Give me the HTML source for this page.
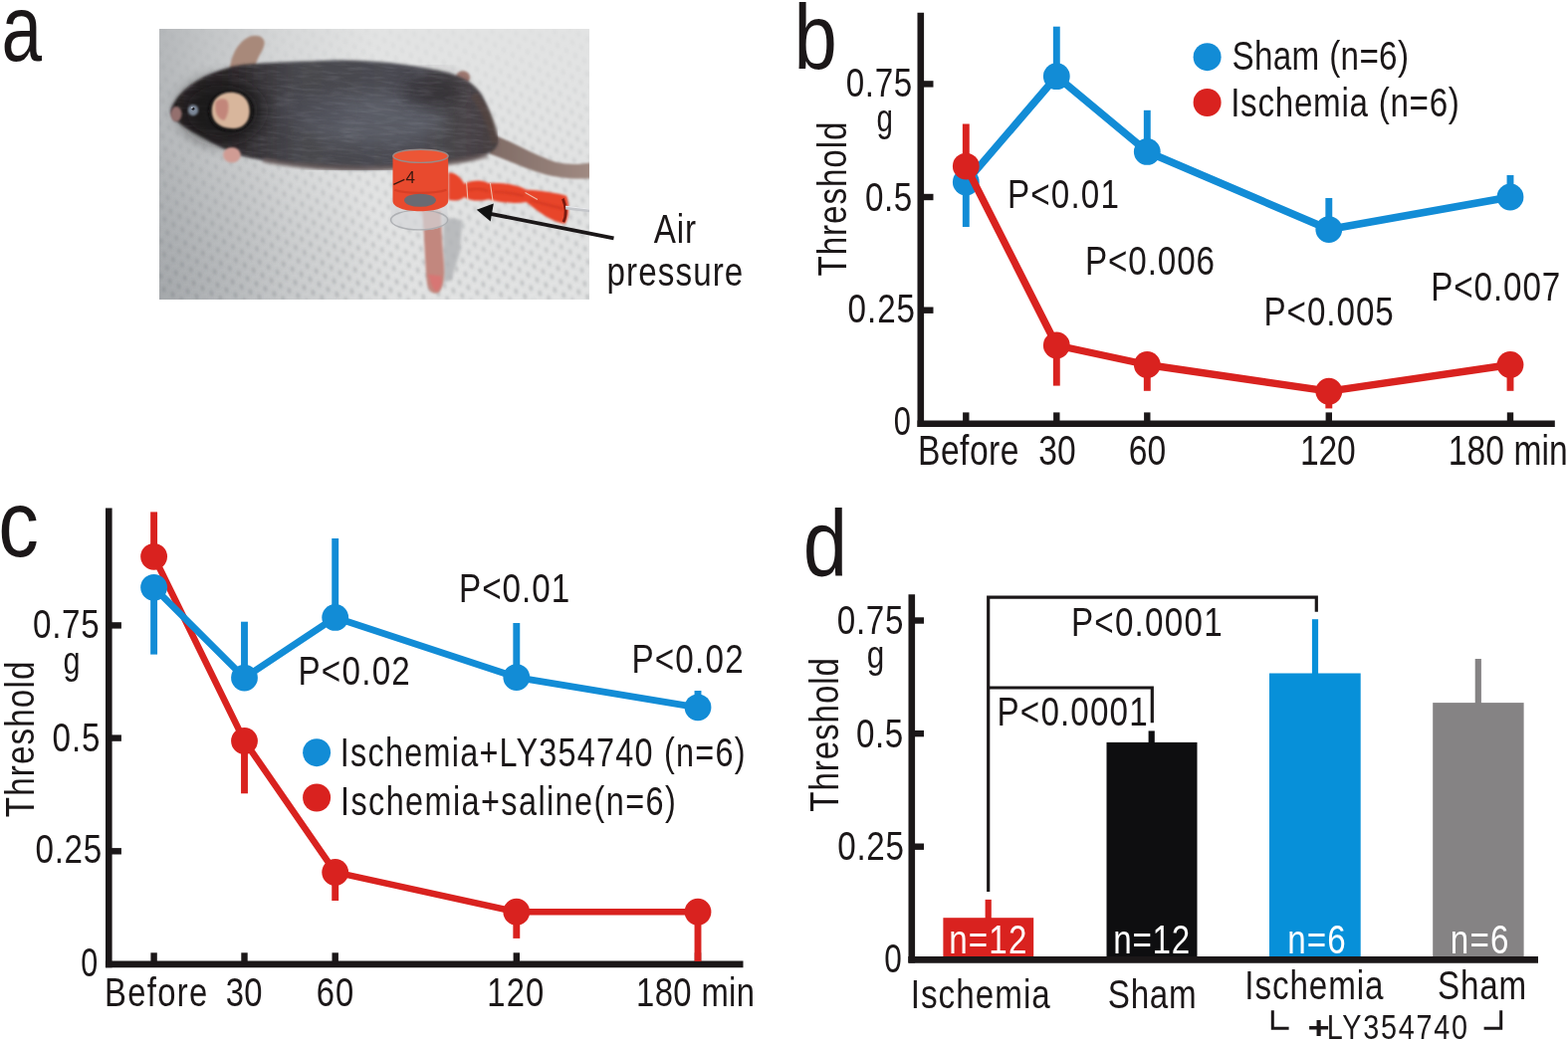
<!DOCTYPE html>
<html><head><meta charset="utf-8"><title>Figure</title>
<style>html,body{margin:0;padding:0;background:#fff;}svg{display:block;}</style></head>
<body><svg width="1575" height="1047" viewBox="0 0 1575 1047" font-family='"Liberation Sans", Arial, sans-serif'>
<rect width="1575" height="1047" fill="#fff"/>
<text transform="translate(1.53,60.56) scale(0.7726,1)" font-size="94.5" fill="#1b1718">a</text>
<defs>
<linearGradient id="dmg" x1="0" y1="0" x2="0" y2="1"><stop offset="0" stop-color="#fff" stop-opacity="0.12"/><stop offset="0.45" stop-color="#fff" stop-opacity="0.5"/><stop offset="1" stop-color="#fff" stop-opacity="0.95"/></linearGradient>
<mask id="dm" maskUnits="userSpaceOnUse" x="0" y="0" width="1575" height="992"><rect width="1575" height="992" fill="url(#dmg)"/></mask>
<clipPath id="bodyclip"><path d="M42 300 C55 250 110 195 200 160 C240 145 262 138 300 132 C380 124 520 120 640 115 C760 113 900 127 1010 150 C1080 162 1140 185 1175 232 C1205 280 1228 350 1240 410 C1242 445 1200 468 1130 482 C1050 495 950 505 850 512 C740 520 620 515 520 503 C430 492 350 478 290 462 C230 440 160 400 100 365 C70 345 42 320 42 300 Z"/></clipPath>
<filter id="fur" x="-200" y="-200" width="2000" height="1300" filterUnits="userSpaceOnUse">
<feTurbulence type="fractalNoise" baseFrequency="0.012 0.09" numOctaves="3" seed="7"/>
<feColorMatrix type="matrix" values="0 0 0 0 0.45  0 0 0 0 0.46  0 0 0 0 0.52  0 0 0 -2.2 1.25"/>
</filter>
<filter id="fur2" x="-200" y="-200" width="2000" height="1300" filterUnits="userSpaceOnUse">
<feTurbulence type="fractalNoise" baseFrequency="0.012 0.09" numOctaves="3" seed="19"/>
<feColorMatrix type="matrix" values="0 0 0 0 0.08  0 0 0 0 0.07  0 0 0 0 0.08  0 0 0 2.2 -1.0"/>
</filter>
<linearGradient id="vigx" x1="0" y1="0" x2="1" y2="0">
<stop offset="0" stop-color="#969a9e" stop-opacity="0.6"/><stop offset="0.12" stop-color="#969a9e" stop-opacity="0.4"/><stop offset="0.3" stop-color="#969a9e" stop-opacity="0.15"/><stop offset="0.5" stop-color="#969a9e" stop-opacity="0"/></linearGradient>
<radialGradient id="vigbl" cx="0" cy="1" r="0.6" gradientTransform="scale(1,1)">
<stop offset="0" stop-color="#8e9296" stop-opacity="0.4"/><stop offset="1" stop-color="#8e9296" stop-opacity="0"/></radialGradient>
<clipPath id="pc"><rect x="0" y="0" width="1575" height="992"/></clipPath>
<pattern id="dots" x="0" y="0" width="56" height="50" patternUnits="userSpaceOnUse" patternTransform="rotate(-12)">
<ellipse cx="14" cy="12" rx="5" ry="11" fill="#5c6266" fill-opacity="0.38"/><ellipse cx="42" cy="37" rx="5" ry="11" fill="#5c6266" fill-opacity="0.38"/>
</pattern>
<linearGradient id="bodyg" x1="0" y1="0" x2="1" y2="0">
<stop offset="0" stop-color="#271f22"/><stop offset="0.2" stop-color="#302b2e"/><stop offset="0.38" stop-color="#47474d"/><stop offset="0.75" stop-color="#4c4c53"/><stop offset="1" stop-color="#453e40"/>
</linearGradient>
<linearGradient id="tailg" x1="0" y1="0" x2="1" y2="0">
<stop offset="0" stop-color="#7e6a64"/><stop offset="1" stop-color="#a08a82"/>
</linearGradient>
<filter id="bl1" x="-10%" y="-10%" width="120%" height="120%"><feGaussianBlur stdDeviation="3"/></filter>
<filter id="bl2" x="-10%" y="-10%" width="120%" height="120%"><feGaussianBlur stdDeviation="6"/></filter>
<filter id="bl3" x="-30%" y="-30%" width="160%" height="160%"><feGaussianBlur stdDeviation="30"/></filter>
<filter id="bld" x="0" y="0" width="100%" height="100%"><feGaussianBlur stdDeviation="5"/></filter>
</defs>
<g transform="translate(160,29) scale(0.274286)" clip-path="url(#pc)">
<rect width="1575" height="992" fill="#e2e3e3"/>
<rect width="1575" height="992" fill="url(#vigx)"/>
<rect width="1575" height="992" fill="url(#vigbl)"/>
<g filter="url(#bld)" mask="url(#dm)"><rect width="1575" height="992" fill="url(#dots)"/></g>
<!-- grayish shade left -->

<!-- shadow under leg -->
<path d="M1040 690 L1110 700 L1100 820 L1070 920 L1040 930 Z" fill="#b0b2b5" filter="url(#bl2)" opacity="0.8"/>
<!-- tail -->
<path d="M1200 380 C1290 410 1370 462 1450 488 C1505 500 1545 496 1580 490 L1580 548 C1540 550 1485 550 1420 535 C1345 515 1280 482 1210 458 Z" fill="url(#tailg)" filter="url(#bl1)"/>
<!-- top ear -->
<path d="M258 150 C262 100 285 50 330 28 C360 18 388 30 385 55 C382 80 360 100 352 135 Z" fill="#a8897a" filter="url(#bl1)"/>
<!-- hind foot top -->
<ellipse cx="1112" cy="178" rx="26" ry="24" fill="#a07a72" filter="url(#bl1)"/>
<!-- body -->
<path d="M42 300 C55 250 110 195 200 160 C240 145 262 138 300 132 C380 124 520 120 640 115 C760 113 900 127 1010 150 C1080 162 1140 185 1175 232 C1205 280 1228 350 1240 410 C1242 445 1200 468 1130 482 C1050 495 950 505 850 512 C740 520 620 515 520 503 C430 492 350 478 290 462 C230 440 160 400 100 365 C70 345 42 320 42 300 Z" fill="url(#bodyg)" filter="url(#bl2)"/>
<!-- lighter back patch -->
<ellipse cx="780" cy="330" rx="260" ry="95" fill="#60636d" opacity="0.8" filter="url(#bl3)"/>
<ellipse cx="560" cy="300" rx="120" ry="70" fill="#4c4c54" opacity="0.6" filter="url(#bl3)"/>
<ellipse cx="1000" cy="230" rx="110" ry="60" fill="#2c282c" opacity="0.6" filter="url(#bl3)"/>
<g clip-path="url(#bodyclip)"><g transform="rotate(4 640 300)"><rect x="-200" y="-200" width="2000" height="1300" filter="url(#fur)" opacity="0.16"/><rect x="-200" y="-200" width="2000" height="1300" filter="url(#fur2)" opacity="0.2"/></g></g>
<!-- brownish rump / belly edge -->
<path d="M1150 240 C1200 300 1225 370 1230 420" fill="none" stroke="#5a4640" stroke-width="30" opacity="0.55" filter="url(#bl2)"/>
<path d="M380 480 C500 505 700 520 900 507 C1000 499 1120 484 1200 462" fill="none" stroke="#6a5a58" stroke-width="22" opacity="0.55" filter="url(#bl2)"/>
<!-- dark head -->
<ellipse cx="230" cy="300" rx="150" ry="115" fill="#181214" opacity="0.75" filter="url(#bl3)"/>
<!-- side ear -->
<ellipse cx="262" cy="302" rx="82" ry="74" fill="#110d0f" filter="url(#bl2)"/>
<path d="M192 300 C192 255 225 232 262 232 C308 232 333 265 331 305 C329 347 300 368 262 365 C218 363 192 337 192 300 Z" fill="#d8b69c" filter="url(#bl1)"/>
<path d="M205 270 C215 255 240 250 250 265 C258 290 250 320 238 335 C222 335 205 315 205 290 Z" fill="#c2867a" filter="url(#bl1)"/>
<!-- eye -->
<ellipse cx="124" cy="298" rx="19" ry="20" fill="#7c8798" filter="url(#bl1)"/>
<circle cx="124" cy="293" r="5" fill="#1a1a1e"/>
<circle cx="120" cy="289" r="2.5" fill="#e8eef4"/>
<!-- nose -->
<ellipse cx="62" cy="312" rx="20" ry="28" fill="#94706e" filter="url(#bl1)"/>
<!-- front paw -->
<ellipse cx="266" cy="462" rx="32" ry="28" fill="#d09c94" filter="url(#bl1)"/>
<!-- hind leg -->
<path d="M962 660 L1032 668 C1032 720 1036 780 1042 850 C1046 900 1044 940 1025 965 C1005 975 985 965 980 930 C975 880 972 800 968 730 Z" fill="#c2877e" filter="url(#bl1)"/>
<path d="M985 900 C995 930 1000 955 1015 962 C1030 955 1038 930 1032 905 Z" fill="#e07070" opacity="0.7" filter="url(#bl1)"/>
<!-- clear plastic lower ring -->
<path d="M848 620 L1055 620 L1055 700 C1055 725 1010 738 955 738 C895 738 848 725 848 700 Z" fill="#d4d6d8" opacity="0.7"/>
<ellipse cx="952" cy="700" rx="104" ry="36" fill="none" stroke="#a4a6aa" stroke-width="5" opacity="0.8"/>
<!-- red cuff -->
<path d="M855 468 L1058 468 L1058 630 C1058 655 1010 668 955 668 C900 668 855 655 855 630 Z" fill="#e84a2e"/>
<ellipse cx="957" cy="466" rx="101" ry="24" fill="#ec5636" stroke="#9a8a88" stroke-width="5"/>
<path d="M862 590 C900 605 1010 605 1052 590" fill="none" stroke="#d03a22" stroke-width="8" opacity="0.7"/>
<ellipse cx="955" cy="628" rx="58" ry="24" fill="#6a6a72"/>
<text x="902" y="565" font-size="62" fill="#3a1810" font-family="Liberation Sans, sans-serif">4</text>
<line x1="858" y1="570" x2="898" y2="552" stroke="#3a1810" stroke-width="5"/>
<!-- balloon -->
<path d="M1059 527 C1085 525 1105 545 1117 568 C1150 552 1185 553 1206 566 C1250 562 1310 570 1344 590 C1400 592 1460 603 1491 612 C1502 640 1502 690 1486 714 C1440 708 1390 672 1344 634 C1300 642 1250 636 1206 624 C1180 632 1140 632 1117 616 C1100 632 1075 630 1059 626 Z" fill="#e8452c" filter="url(#bl1)"/>
<path d="M1130 590 C1160 585 1190 588 1205 595 M1225 598 C1270 598 1310 605 1335 612 M1360 628 C1400 640 1450 650 1480 660" stroke="#c8321e" stroke-width="8" fill="none" opacity="0.6" filter="url(#bl1)"/>
<path d="M1478 622 C1490 650 1492 685 1480 708" fill="none" stroke="#7a1a10" stroke-width="10"/>
<path d="M1125 560 L1130 630 M1212 565 L1222 635 M1340 600 L1385 625" stroke="#f0d8c8" stroke-width="4" fill="none" opacity="0.8"/>
<!-- tube -->
<path d="M1488 648 L1580 660 L1580 672 L1488 662 Z" fill="#c4c6ca"/>
<path d="M1488 650 L1580 661" stroke="#f4f4f6" stroke-width="3"/>
</g>

<text transform="translate(656.83,243.50) scale(0.8000,1)" font-size="41.5" fill="#1b1718" letter-spacing="1.02">Air</text>
<text transform="translate(609.48,287.40) scale(0.8000,1)" font-size="41.5" fill="#1b1718" letter-spacing="1.38">pressure</text>
<line x1="616.5" y1="239.3" x2="490" y2="214.3" stroke="#1b1718" stroke-width="3.8" stroke-linecap="butt"/>
<polygon points="478.8,210.8 495.8,204.6 492.7,222.5" fill="#111"/>
<text transform="translate(797.62,69.40) scale(0.8342,1)" font-size="93.3" fill="#1b1718">b</text>
<line x1="924.8" y1="12.7" x2="924.8" y2="429.1" stroke="#1b1718" stroke-width="6.6" stroke-linecap="butt"/>
<line x1="921.5" y1="425.8" x2="1561.8" y2="425.8" stroke="#1b1718" stroke-width="6.6" stroke-linecap="butt"/>
<line x1="924.8" y1="84.4" x2="937.5" y2="84.4" stroke="#1b1718" stroke-width="6.4" stroke-linecap="butt"/>
<line x1="924.8" y1="198.0" x2="937.5" y2="198.0" stroke="#1b1718" stroke-width="6.4" stroke-linecap="butt"/>
<line x1="924.8" y1="311.7" x2="937.5" y2="311.7" stroke="#1b1718" stroke-width="6.4" stroke-linecap="butt"/>
<line x1="970.3" y1="414.4" x2="970.3" y2="425.8" stroke="#1b1718" stroke-width="6.4" stroke-linecap="butt"/>
<line x1="1061.3" y1="414.4" x2="1061.3" y2="425.8" stroke="#1b1718" stroke-width="6.4" stroke-linecap="butt"/>
<line x1="1152.3" y1="414.4" x2="1152.3" y2="425.8" stroke="#1b1718" stroke-width="6.4" stroke-linecap="butt"/>
<line x1="1334.8" y1="414.4" x2="1334.8" y2="425.8" stroke="#1b1718" stroke-width="6.4" stroke-linecap="butt"/>
<line x1="1517.0" y1="414.4" x2="1517.0" y2="425.8" stroke="#1b1718" stroke-width="6.4" stroke-linecap="butt"/>
<line x1="970.3" y1="182.9" x2="970.3" y2="228.0" stroke="#128cd6" stroke-width="6.9" stroke-linecap="butt"/>
<line x1="1061.3" y1="76.7" x2="1061.3" y2="26.7" stroke="#128cd6" stroke-width="6.9" stroke-linecap="butt"/>
<line x1="1152.3" y1="152.4" x2="1152.3" y2="110.8" stroke="#128cd6" stroke-width="6.9" stroke-linecap="butt"/>
<line x1="1334.8" y1="230.6" x2="1334.8" y2="199.0" stroke="#128cd6" stroke-width="6.9" stroke-linecap="butt"/>
<line x1="1517.0" y1="198.0" x2="1517.0" y2="176.0" stroke="#128cd6" stroke-width="6.9" stroke-linecap="butt"/>
<polyline points="970.3,182.9 1061.3,76.7 1152.3,152.4 1334.8,230.6 1517.0,198.0" fill="none" stroke="#128cd6" stroke-width="7.6" stroke-linejoin="round"/>
<circle cx="970.3" cy="182.9" r="13.4" fill="#128cd6"/>
<circle cx="1061.3" cy="76.7" r="13.4" fill="#128cd6"/>
<circle cx="1152.3" cy="152.4" r="13.4" fill="#128cd6"/>
<circle cx="1334.8" cy="230.6" r="13.4" fill="#128cd6"/>
<circle cx="1517.0" cy="198.0" r="13.4" fill="#128cd6"/>
<line x1="970.3" y1="167.1" x2="970.3" y2="124.5" stroke="#d9221f" stroke-width="6.9" stroke-linecap="butt"/>
<line x1="1061.3" y1="347.0" x2="1061.3" y2="387.6" stroke="#d9221f" stroke-width="6.9" stroke-linecap="butt"/>
<line x1="1152.3" y1="366.5" x2="1152.3" y2="392.8" stroke="#d9221f" stroke-width="6.9" stroke-linecap="butt"/>
<line x1="1334.8" y1="393.2" x2="1334.8" y2="410.4" stroke="#d9221f" stroke-width="6.9" stroke-linecap="butt"/>
<line x1="1517.0" y1="366.5" x2="1517.0" y2="392.8" stroke="#d9221f" stroke-width="6.9" stroke-linecap="butt"/>
<polyline points="970.3,167.1 1061.3,347.0 1152.3,366.5 1334.8,393.2 1517.0,366.5" fill="none" stroke="#d9221f" stroke-width="7.4" stroke-linejoin="round"/>
<circle cx="970.3" cy="167.1" r="13.4" fill="#d9221f"/>
<circle cx="1061.3" cy="347.0" r="13.4" fill="#d9221f"/>
<circle cx="1152.3" cy="366.5" r="13.4" fill="#d9221f"/>
<circle cx="1334.8" cy="393.2" r="13.4" fill="#d9221f"/>
<circle cx="1517.0" cy="366.5" r="13.4" fill="#d9221f"/>
<circle cx="1212.6" cy="57.2" r="14" fill="#128cd6"/>
<circle cx="1212.6" cy="103" r="14" fill="#d9221f"/>
<text transform="translate(1237.51,70.40) scale(0.8000,1)" font-size="41.5" fill="#1b1718" letter-spacing="0.44">Sham (n=6)</text>
<text transform="translate(1236.15,116.70) scale(0.8000,1)" font-size="41.5" fill="#1b1718" letter-spacing="0.90">Ischemia (n=6)</text>
<text transform="translate(1011.88,209.00) scale(0.8000,1)" font-size="41.5" fill="#1b1718" letter-spacing="1.48">P&lt;0.01</text>
<text transform="translate(1089.88,276.20) scale(0.8000,1)" font-size="41.5" fill="#1b1718" letter-spacing="1.16">P&lt;0.006</text>
<text transform="translate(1269.48,326.70) scale(0.8000,1)" font-size="41.5" fill="#1b1718" letter-spacing="1.20">P&lt;0.005</text>
<text transform="translate(1437.28,301.50) scale(0.8000,1)" font-size="41.5" fill="#1b1718" letter-spacing="1.12">P&lt;0.007</text>
<text transform="translate(922.04,467.30) scale(0.8000,1)" font-size="42" fill="#1b1718" letter-spacing="0.61">Before</text>
<text transform="translate(1043.22,467.30) scale(0.8000,1)" font-size="42" fill="#1b1718" letter-spacing="0.24">30</text>
<text transform="translate(1133.82,467.30) scale(0.8000,1)" font-size="42" fill="#1b1718" letter-spacing="0.12">60</text>
<text transform="translate(1305.95,467.30) scale(0.8000,1)" font-size="42" fill="#1b1718" letter-spacing="-0.20">120</text>
<text transform="translate(1454.75,467.30) scale(0.8000,1)" font-size="42" fill="#1b1718" letter-spacing="0.10">180 min</text>
<text transform="translate(849.71,97.40) scale(0.8000,1)" font-size="41.5" fill="#1b1718" letter-spacing="0.81">0.75</text>
<text transform="translate(880.46,132.20) scale(0.7778,1)" font-size="38" fill="#1b1718">g</text>
<text transform="translate(869.11,211.50) scale(0.8000,1)" font-size="41.5" fill="#1b1718" letter-spacing="0.57">0.5</text>
<text transform="translate(851.61,324.40) scale(0.8000,1)" font-size="41.5" fill="#1b1718" letter-spacing="1.15">0.25</text>
<text transform="translate(897.69,437.40) scale(0.7445,1)" font-size="41.5" fill="#1b1718">0</text>
<text transform="translate(850.40,277.53) rotate(-90) scale(0.8000,1)" font-size="41.5" fill="#1b1718" letter-spacing="1.16">Threshold</text>
<text transform="translate(-1.71,558.76) scale(0.8662,1)" font-size="93.8" fill="#1b1718">c</text>
<line x1="109.3" y1="510.6" x2="109.3" y2="972.3" stroke="#1b1718" stroke-width="6.6" stroke-linecap="butt"/>
<line x1="105.9" y1="968.9" x2="746.5" y2="968.9" stroke="#1b1718" stroke-width="6.6" stroke-linecap="butt"/>
<line x1="109.3" y1="628.4" x2="121.9" y2="628.4" stroke="#1b1718" stroke-width="6.4" stroke-linecap="butt"/>
<line x1="109.3" y1="741.6" x2="121.9" y2="741.6" stroke="#1b1718" stroke-width="6.4" stroke-linecap="butt"/>
<line x1="109.3" y1="855.3" x2="121.9" y2="855.3" stroke="#1b1718" stroke-width="6.4" stroke-linecap="butt"/>
<line x1="154.6" y1="957.3" x2="154.6" y2="968.9" stroke="#1b1718" stroke-width="6.4" stroke-linecap="butt"/>
<line x1="245.5" y1="957.3" x2="245.5" y2="968.9" stroke="#1b1718" stroke-width="6.4" stroke-linecap="butt"/>
<line x1="336.7" y1="957.3" x2="336.7" y2="968.9" stroke="#1b1718" stroke-width="6.4" stroke-linecap="butt"/>
<line x1="518.8" y1="957.3" x2="518.8" y2="968.9" stroke="#1b1718" stroke-width="6.4" stroke-linecap="butt"/>
<line x1="701.0" y1="957.3" x2="701.0" y2="968.9" stroke="#1b1718" stroke-width="6.4" stroke-linecap="butt"/>
<line x1="154.6" y1="559.3" x2="154.6" y2="514.4" stroke="#d9221f" stroke-width="6.9" stroke-linecap="butt"/>
<line x1="245.5" y1="744.4" x2="245.5" y2="797.3" stroke="#d9221f" stroke-width="6.9" stroke-linecap="butt"/>
<line x1="336.7" y1="876.4" x2="336.7" y2="905.0" stroke="#d9221f" stroke-width="6.9" stroke-linecap="butt"/>
<line x1="518.8" y1="916.2" x2="518.8" y2="942.9" stroke="#d9221f" stroke-width="6.9" stroke-linecap="butt"/>
<line x1="701.0" y1="916.2" x2="701.0" y2="966.0" stroke="#d9221f" stroke-width="6.9" stroke-linecap="butt"/>
<polyline points="154.6,559.3 245.5,744.4 336.7,876.4 518.8,916.2 701.0,916.2" fill="none" stroke="#d9221f" stroke-width="6.6" stroke-linejoin="round"/>
<circle cx="154.6" cy="559.3" r="13.4" fill="#d9221f"/>
<circle cx="245.5" cy="744.4" r="13.4" fill="#d9221f"/>
<circle cx="336.7" cy="876.4" r="13.4" fill="#d9221f"/>
<circle cx="518.8" cy="916.2" r="13.4" fill="#d9221f"/>
<circle cx="701.0" cy="916.2" r="13.4" fill="#d9221f"/>
<line x1="154.6" y1="590.3" x2="154.6" y2="657.6" stroke="#128cd6" stroke-width="6.9" stroke-linecap="butt"/>
<line x1="245.5" y1="681.1" x2="245.5" y2="624.7" stroke="#128cd6" stroke-width="6.9" stroke-linecap="butt"/>
<line x1="336.7" y1="620.4" x2="336.7" y2="541.0" stroke="#128cd6" stroke-width="6.9" stroke-linecap="butt"/>
<line x1="518.8" y1="680.6" x2="518.8" y2="626.0" stroke="#128cd6" stroke-width="6.9" stroke-linecap="butt"/>
<line x1="701.0" y1="710.8" x2="701.0" y2="694.0" stroke="#128cd6" stroke-width="6.9" stroke-linecap="butt"/>
<polyline points="154.6,590.3 245.5,681.1 336.7,620.4 518.8,680.6 701.0,710.8" fill="none" stroke="#128cd6" stroke-width="6.8" stroke-linejoin="round"/>
<circle cx="154.6" cy="590.3" r="13.4" fill="#128cd6"/>
<circle cx="245.5" cy="681.1" r="13.4" fill="#128cd6"/>
<circle cx="336.7" cy="620.4" r="13.4" fill="#128cd6"/>
<circle cx="518.8" cy="680.6" r="13.4" fill="#128cd6"/>
<circle cx="701.0" cy="710.8" r="13.4" fill="#128cd6"/>
<circle cx="318.1" cy="756.2" r="14" fill="#128cd6"/>
<circle cx="318.1" cy="801.5" r="14" fill="#d9221f"/>
<text transform="translate(341.82,770.00) scale(0.8000,1)" font-size="40.5" fill="#1b1718" letter-spacing="1.56">Ischemia+LY354740 (n=6)</text>
<text transform="translate(342.02,819.10) scale(0.8000,1)" font-size="40.5" fill="#1b1718" letter-spacing="1.78">Ischemia+saline(n=6)</text>
<text transform="translate(299.48,688.10) scale(0.8000,1)" font-size="41.5" fill="#1b1718" letter-spacing="1.56">P&lt;0.02</text>
<text transform="translate(461.08,604.70) scale(0.8000,1)" font-size="41.5" fill="#1b1718" letter-spacing="1.26">P&lt;0.01</text>
<text transform="translate(634.38,676.40) scale(0.8000,1)" font-size="41.5" fill="#1b1718" letter-spacing="1.54">P&lt;0.02</text>
<text transform="translate(105.11,1010.60) scale(0.8000,1)" font-size="41" fill="#1b1718" letter-spacing="1.65">Before</text>
<text transform="translate(226.75,1010.60) scale(0.8000,1)" font-size="41" fill="#1b1718" letter-spacing="0.40">30</text>
<text transform="translate(317.76,1010.60) scale(0.8000,1)" font-size="41" fill="#1b1718" letter-spacing="1.39">60</text>
<text transform="translate(489.21,1010.60) scale(0.8000,1)" font-size="41" fill="#1b1718" letter-spacing="1.52">120</text>
<text transform="translate(639.11,1010.60) scale(0.8000,1)" font-size="41" fill="#1b1718" letter-spacing="0.46">180 min</text>
<text transform="translate(33.01,641.40) scale(0.8000,1)" font-size="41.5" fill="#1b1718" letter-spacing="0.85">0.75</text>
<text transform="translate(63.61,676.80) scale(0.8070,1)" font-size="38" fill="#1b1718">g</text>
<text transform="translate(52.61,755.40) scale(0.8000,1)" font-size="41.5" fill="#1b1718" letter-spacing="1.07">0.5</text>
<text transform="translate(35.61,867.40) scale(0.8000,1)" font-size="41.5" fill="#1b1718" letter-spacing="0.81">0.25</text>
<text transform="translate(81.31,980.70) scale(0.7345,1)" font-size="41.5" fill="#1b1718">0</text>
<text transform="translate(34.00,821.23) rotate(-90) scale(0.8000,1)" font-size="41.5" fill="#1b1718" letter-spacing="1.41">Threshold</text>
<text transform="translate(806.65,578.56) scale(0.8496,1)" font-size="93.9" fill="#1b1718">d</text>
<line x1="915.8" y1="597.2" x2="915.8" y2="967.6" stroke="#1b1718" stroke-width="6.6" stroke-linecap="butt"/>
<line x1="912.5" y1="964.3" x2="1545.0" y2="964.3" stroke="#1b1718" stroke-width="6.6" stroke-linecap="butt"/>
<line x1="915.8" y1="623.5" x2="928.0" y2="623.5" stroke="#1b1718" stroke-width="6.4" stroke-linecap="butt"/>
<line x1="915.8" y1="737.1" x2="928.0" y2="737.1" stroke="#1b1718" stroke-width="6.4" stroke-linecap="butt"/>
<line x1="915.8" y1="850.7" x2="928.0" y2="850.7" stroke="#1b1718" stroke-width="6.4" stroke-linecap="butt"/>
<line x1="992.7" y1="923.2" x2="992.7" y2="903.9" stroke="#d9221f" stroke-width="6.2" stroke-linecap="butt"/>
<rect x="947.4" y="922.2" width="90.80000000000007" height="42.09999999999991" fill="#d9221f"/>
<line x1="1156.7" y1="746.9" x2="1156.7" y2="734.4" stroke="#0e0e10" stroke-width="6.2" stroke-linecap="butt"/>
<rect x="1111.5" y="745.9" width="91.0" height="218.39999999999998" fill="#0e0e10"/>
<line x1="1321.0" y1="677.5" x2="1321.0" y2="622.2" stroke="#0790d9" stroke-width="6.2" stroke-linecap="butt"/>
<rect x="1275.0" y="676.5" width="91.70000000000005" height="287.79999999999995" fill="#0790d9"/>
<line x1="1484.8" y1="707.1" x2="1484.8" y2="662.0" stroke="#858384" stroke-width="6.2" stroke-linecap="butt"/>
<rect x="1439.2" y="706.1" width="91.39999999999986" height="258.19999999999993" fill="#858384"/>
<line x1="912.5" y1="964.3" x2="1545.0" y2="964.3" stroke="#1b1718" stroke-width="6.6" stroke-linecap="butt"/>
<polyline points="992.7,896.1 992.7,600.2 1322.3,600.2 1322.3,614.7" fill="none" stroke="#1b1718" stroke-width="3.2"/>
<polyline points="992.7,691 1157.3,691 1157.3,726.3" fill="none" stroke="#1b1718" stroke-width="3.2"/>
<text transform="translate(1075.88,639.00) scale(0.8000,1)" font-size="41.5" fill="#1b1718" letter-spacing="1.57">P&lt;0.0001</text>
<text transform="translate(1001.58,729.00) scale(0.8000,1)" font-size="41.5" fill="#1b1718" letter-spacing="1.43">P&lt;0.0001</text>
<text transform="translate(953.21,957.60) scale(0.8000,1)" font-size="41.5" fill="#fff" letter-spacing="1.41">n=12</text>
<text transform="translate(1118.31,957.60) scale(0.8000,1)" font-size="41.5" fill="#fff" letter-spacing="0.91">n=12</text>
<text transform="translate(1293.31,957.90) scale(0.8000,1)" font-size="41.5" fill="#fff" letter-spacing="1.32">n=6</text>
<text transform="translate(1456.71,957.90) scale(0.8000,1)" font-size="41.5" fill="#fff" letter-spacing="1.57">n=6</text>
<text transform="translate(914.65,1012.50) scale(0.8000,1)" font-size="41.5" fill="#1b1718" letter-spacing="1.32">Ischemia</text>
<text transform="translate(1112.81,1012.50) scale(0.8000,1)" font-size="41.5" fill="#1b1718" letter-spacing="0.89">Sham</text>
<text transform="translate(1250.35,1003.60) scale(0.8000,1)" font-size="41.5" fill="#1b1718" letter-spacing="1.12">Ischemia</text>
<text transform="translate(1443.91,1003.60) scale(0.8000,1)" font-size="41.5" fill="#1b1718" letter-spacing="1.06">Sham</text>
<text transform="translate(1313.60,1042.5) scale(1.1890,1)" font-size="32.0" font-weight="bold" fill="#1b1718">+</text>
<text transform="translate(1332.64,1043.50) scale(0.8000,1)" font-size="36" fill="#1b1718" letter-spacing="2.19">LY354740</text>
<polyline points="1278.3,1015.3 1278.3,1033.2 1294.6,1033.2" fill="none" stroke="#1b1718" stroke-width="3"/>
<polyline points="1490.6,1033.2 1507.7,1033.2 1507.7,1015.3" fill="none" stroke="#1b1718" stroke-width="3"/>
<text transform="translate(840.71,636.70) scale(0.8000,1)" font-size="41.5" fill="#1b1718" letter-spacing="0.90">0.75</text>
<text transform="translate(870.77,671.00) scale(0.8304,1)" font-size="38" fill="#1b1718">g</text>
<text transform="translate(859.91,750.80) scale(0.8000,1)" font-size="41.5" fill="#1b1718" letter-spacing="0.69">0.5</text>
<text transform="translate(841.31,863.60) scale(0.8000,1)" font-size="41.5" fill="#1b1718" letter-spacing="0.85">0.25</text>
<text transform="translate(888.37,976.60) scale(0.7596,1)" font-size="41.5" fill="#1b1718">0</text>
<text transform="translate(841.50,815.73) rotate(-90) scale(0.8000,1)" font-size="41.5" fill="#1b1718" letter-spacing="1.13">Threshold</text>
</svg></body></html>
